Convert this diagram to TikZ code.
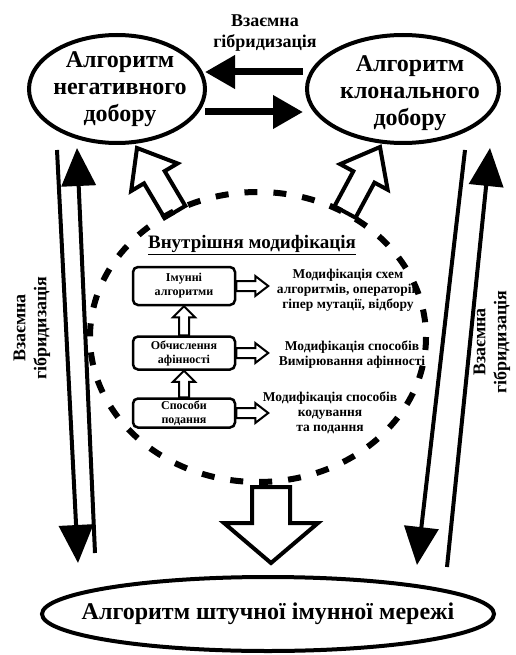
\documentclass[tikz,border=0pt]{standalone}
\usepackage{fontspec}
\setmainfont{Liberation Serif}
\usetikzlibrary{shapes.geometric, arrows.meta, positioning, calc}

% hollow block arrow: from, to, shaft half width, head half width, head length
\newcommand{\hollowarrow}[6][blockarrow]{%
  \coordinate (ha) at ($(#3)!#6!(#2)$);
  \draw[#1] ($(#2)!#4!90:(#3)$) -- ($(ha)!#4!90:(#3)$) -- ($(ha)!#5!90:(#3)$) -- (#3)
    -- ($(ha)!#5!-90:(#3)$) -- ($(ha)!#4!-90:(#3)$) -- ($(#2)!#4!-90:(#3)$) -- cycle;
}

\tikzset{
  algotext/.style={font=\bfseries\fontsize{24}{27}\selectfont, align=center, inner sep=0pt},
  ring/.style={line width=4pt},
  dashring/.style={line width=6pt, dash pattern=on 13pt off 16pt},
  modbox/.style={draw, rounded corners=5pt, line width=2.5pt, minimum width=102pt, font=\bfseries\fontsize{12}{14}\selectfont, align=center, inner sep=1pt},
  modtext/.style={font=\bfseries\fontsize{13.5}{15}\selectfont, align=center},
  hybtext/.style={font=\bfseries\fontsize{18}{21}\selectfont, align=center},
  headtext/.style={font=\bfseries\fontsize{19}{22}\selectfont},
  thickarrow/.style={line width=7pt, -{Triangle[length=30pt,width=32pt]}},
  longarrow/.style={line width=4pt, -{Triangle[length=38pt,width=34pt]}},
  blockarrow/.style={line width=4pt, fill=white, line join=miter},
  smallarrow/.style={line width=2pt, fill=white, line join=miter},
}

\begin{document}
\begin{tikzpicture}[x=1pt, y=-1pt]
\useasboundingbox (0,0) rectangle (515,655);

% three algorithms
\node[algotext] (neg) at (120,89) {Алгоритм\\негативного\\добору};
\draw[ring] (117,89) ellipse [x radius=88, y radius=54];
\node[algotext] (clon) at (410,93) {Алгоритм\\клонального\\добору};
\draw[ring] (403,89) ellipse [x radius=96, y radius=54];
\node[algotext] (ais) at (268,614) {Алгоритм штучної імунної мережі};
\draw[ring] (ais) ellipse [x radius=226, y radius=37];

% mutual hybridisation
\node[hybtext] (hybtop) at (265,33) {Взаємна\\гібридизація};
\node[hybtext, rotate=90] (hybleft) at (32,328) {Взаємна\\гібридизація};
\node[hybtext, rotate=90] (hybright) at (492,342) {Взаємна\\гібридизація};

\coordinate (c2n) at (303,72);
\coordinate (n2c) at (205,112);
\draw[thickarrow] (c2n) -- (c2n -| n2c);
\draw[thickarrow] (n2c) -- (n2c -| c2n);

\coordinate (ldown) at (57,150);
\coordinate (ldownend) at (78,563);
\coordinate (lup) at (95,553);
\coordinate (lupend) at (77,148);
\coordinate (rdown) at (465,150);
\coordinate (rdownend) at (417,565);
\coordinate (rup) at (447,567);
\coordinate (rupend) at (490,148);
\draw[longarrow] (ldown) -- (ldownend);
\draw[longarrow] (lup) -- (lupend);
\draw[longarrow] (rdown) -- (rdownend);
\draw[longarrow] (rup) -- (rupend);

% inner modification
\coordinate (inl) at (175,212);
\coordinate (inlend) at (137,148);
\coordinate (inr) at (345,212);
\coordinate (inrend) at (380,147);
\coordinate (inb) at (271,487);
\coordinate (inbend) at (271,563);
\hollowarrow{inl}{inlend}{12pt}{27pt}{34pt}
\hollowarrow{inr}{inrend}{12pt}{27pt}{34pt}
\hollowarrow{inb}{inbend}{19pt}{47pt}{40pt}

\draw[dashring] (258,337) ellipse [x radius=168, y radius=145];

\node[headtext] (inner) at (252,245) {\underline{Внутрішня модифікація}};

\node[modbox, minimum height=38pt] (immune) at (184,286) {Імунні\\алгоритми};
\node[modbox, minimum height=33pt] (affin) at (184,353) {Обчислення\\афінності};
\node[modbox, minimum height=29pt] (repr) at (184,413) {Способи\\подання};

\hollowarrow[smallarrow]{repr.north}{affin.south}{5pt}{11pt}{11pt}
\hollowarrow[smallarrow]{affin.north}{immune.south}{5pt}{11pt}{11pt}

\coordinate[right=32pt of immune] (t1);
\coordinate[right=32pt of affin] (t2);
\coordinate[right=32pt of repr] (t3);
\hollowarrow[smallarrow]{immune.east}{t1}{5pt}{10pt}{13pt}
\hollowarrow[smallarrow]{affin.east}{t2}{5pt}{10pt}{13pt}
\hollowarrow[smallarrow]{repr.east}{t3}{5pt}{10pt}{13pt}

\node[modtext] (mod1) at (348,290) {Модифікація схем\\алгоритмів, операторів\\гіпер мутації, відбору};
\node[modtext] (mod2) at (352,355) {Модифікація способів\\Вимірювання афінності};
\node[modtext] (mod3) at (330,413) {Модифікація способів\\кодування\\та подання};
\end{tikzpicture}
\end{document}
